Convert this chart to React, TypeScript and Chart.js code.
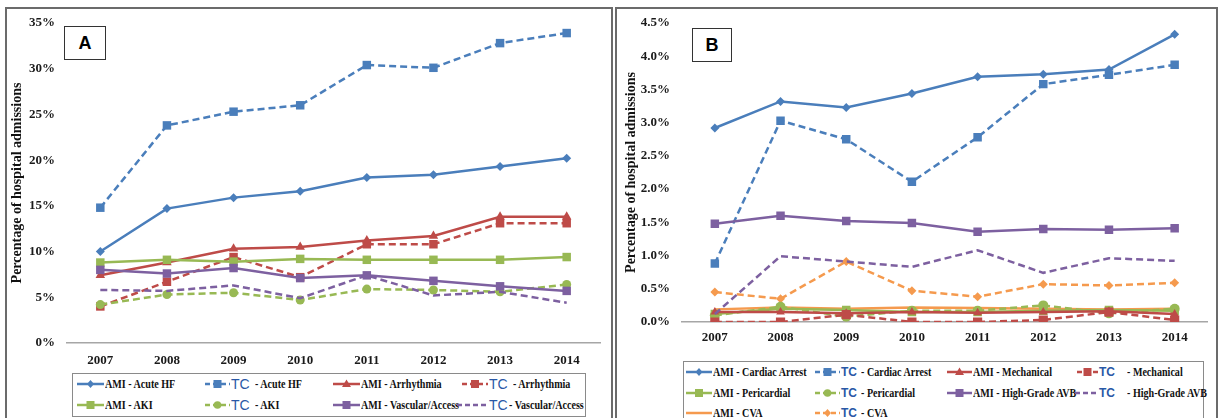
import React, { useEffect, useRef } from 'react';
import { Chart, registerables } from 'chart.js';
Chart.register(...registerables);

const years = ['2007', '2008', '2009', '2010', '2011', '2012', '2013', '2014'];

// Panel A (percent)
const amiAcuteHF = [10.0, 14.7, 15.9, 16.6, 18.1, 18.4, 19.3, 20.2];
const tcAcuteHF = [14.8, 23.8, 25.3, 26.0, 30.4, 30.1, 32.8, 33.9];
const amiArrhythmia = [7.4, 8.8, 10.3, 10.5, 11.2, 11.7, 13.8, 13.8];
const tcArrhythmia = [4.0, 6.7, 9.4, 7.2, 10.8, 10.8, 13.1, 13.1];
const amiAKI = [8.8, 9.1, 8.9, 9.2, 9.1, 9.1, 9.1, 9.4];
const tcAKI = [4.2, 5.3, 5.5, 4.7, 5.9, 5.8, 5.6, 6.4];
const amiVascular = [8.0, 7.6, 8.2, 7.1, 7.4, 6.8, 6.2, 5.7];
const tcVascular = [5.8, 5.7, 6.3, 4.9, 7.4, 5.2, 5.6, 4.4];

// Panel B (percent)
const amiCardiacArrest = [2.92, 3.32, 3.23, 3.44, 3.69, 3.73, 3.8, 4.33];
const tcCardiacArrest = [0.88, 3.03, 2.75, 2.11, 2.78, 3.58, 3.72, 3.87];
const amiMechanical = [0.15, 0.15, 0.13, 0.15, 0.14, 0.15, 0.16, 0.12];
const tcMechanical = [0.0, 0.0, 0.11, 0.0, 0.0, 0.03, 0.15, 0.03];
const amiPericardial = [0.12, 0.2, 0.18, 0.15, 0.15, 0.17, 0.18, 0.17];
const tcPericardial = [0.1, 0.23, 0.08, 0.17, 0.17, 0.25, 0.13, 0.2];
const amiHighGradeAVB = [1.48, 1.6, 1.52, 1.49, 1.36, 1.4, 1.39, 1.41];
const tcHighGradeAVB = [0.12, 0.99, 0.91, 0.83, 1.08, 0.74, 0.96, 0.92];
const amiCVA = [0.19, 0.22, 0.2, 0.22, 0.21, 0.2, 0.19, 0.2];
const tcCVA = [0.45, 0.35, 0.91, 0.47, 0.38, 0.57, 0.55, 0.59];

const yTicksA = { min: 0, max: 35, step: 5 };
const yTicksB = { min: 0, max: 4.5, step: 0.5 };
const yTitle = 'Percentage of hospital admissions';

const BLUE = '#4A7EBB';
const RED = '#BE4B48';
const GREEN = '#98B954';
const PURPLE = '#7D60A0';
const ORANGE = '#F59A4E';
const TC_BLUE = '#2A58A6';

type Marker = 'rectRot' | 'rect' | 'triangle' | 'circle' | 'none';
interface Series {
  label: string;
  name: string;
  group: 'AMI' | 'TC';
  data: number[];
  color: string;
  marker: Marker;
  radius: number;
}

const seriesA: Series[] = [
  { label: 'AMI - Vascular/Access', name: 'Vascular/Access', group: 'AMI', data: amiVascular, color: PURPLE, marker: 'rect', radius: 6 },
  { label: 'TC - Vascular/Access', name: 'Vascular/Access', group: 'TC', data: tcVascular, color: PURPLE, marker: 'none', radius: 0 },
  { label: 'AMI - AKI', name: 'AKI', group: 'AMI', data: amiAKI, color: GREEN, marker: 'rect', radius: 6 },
  { label: 'TC - AKI', name: 'AKI', group: 'TC', data: tcAKI, color: GREEN, marker: 'circle', radius: 4.5 },
  { label: 'AMI - Arrhythmia', name: 'Arrhythmia', group: 'AMI', data: amiArrhythmia, color: RED, marker: 'triangle', radius: 5.5 },
  { label: 'TC - Arrhythmia', name: 'Arrhythmia', group: 'TC', data: tcArrhythmia, color: RED, marker: 'rect', radius: 6 },
  { label: 'AMI - Acute HF', name: 'Acute HF', group: 'AMI', data: amiAcuteHF, color: BLUE, marker: 'rectRot', radius: 4.5 },
  { label: 'TC - Acute HF', name: 'Acute HF', group: 'TC', data: tcAcuteHF, color: BLUE, marker: 'rect', radius: 6 },
];

const seriesB: Series[] = [
  { label: 'TC - High-Grade AVB', name: 'High-Grade AVB', group: 'TC', data: tcHighGradeAVB, color: PURPLE, marker: 'none', radius: 0 },
  { label: 'AMI - High-Grade AVB', name: 'High-Grade AVB', group: 'AMI', data: amiHighGradeAVB, color: PURPLE, marker: 'rect', radius: 6 },
  { label: 'TC - Mechanical', name: 'Mechanical', group: 'TC', data: tcMechanical, color: RED, marker: 'rect', radius: 6.5 },
  { label: 'AMI - Mechanical', name: 'Mechanical', group: 'AMI', data: amiMechanical, color: RED, marker: 'triangle', radius: 5 },
  { label: 'TC - Pericardial', name: 'Pericardial', group: 'TC', data: tcPericardial, color: GREEN, marker: 'circle', radius: 5 },
  { label: 'AMI - Pericardial', name: 'Pericardial', group: 'AMI', data: amiPericardial, color: GREEN, marker: 'rect', radius: 6 },
  { label: 'AMI - CVA', name: 'CVA', group: 'AMI', data: amiCVA, color: ORANGE, marker: 'none', radius: 0 },
  { label: 'TC - CVA', name: 'CVA', group: 'TC', data: tcCVA, color: ORANGE, marker: 'rectRot', radius: 4.5 },
  { label: 'TC - Cardiac Arrest', name: 'Cardiac Arrest', group: 'TC', data: tcCardiacArrest, color: BLUE, marker: 'rect', radius: 6 },
  { label: 'AMI - Cardiac Arrest', name: 'Cardiac Arrest', group: 'AMI', data: amiCardiacArrest, color: BLUE, marker: 'rectRot', radius: 4.5 },
];

const SERIF = "'Liberation Serif', 'Times New Roman', serif";
const SANS = "'Liberation Sans', Arial, sans-serif";

function toDataset(s: Series) {
  return {
    label: s.label,
    data: s.data,
    borderColor: s.color,
    backgroundColor: s.color,
    borderWidth: 2.5,
    borderDash: s.group === 'TC' ? [7, 4] : [],
    pointStyle: s.marker === 'none' ? 'circle' : s.marker,
    pointRadius: s.marker === 'none' ? 0 : s.radius,
    pointBorderWidth: 0,
    tension: 0,
    fill: false,
  };
}

interface PanelChartProps {
  series: Series[];
  ticks: { min: number; max: number; step: number };
  decimals: number;
  left: number;
  width: number;
  height: number;
  xHeight: number;
  yWidth: number;
  padTop: number;
  padRight: number;
  titlePad: number;
  xPad: number;
}

function PanelChart(p: PanelChartProps) {
  const ref = useRef<HTMLCanvasElement | null>(null);
  useEffect(() => {
    if (!ref.current) return;
    const chart = new Chart(ref.current, {
      type: 'line',
      data: { labels: years, datasets: p.series.map(toDataset) as any },
      options: {
        animation: false,
        responsive: false,
        maintainAspectRatio: false,
        layout: { padding: { top: p.padTop, right: p.padRight, left: 0, bottom: 0 } },
        plugins: { legend: { display: false }, tooltip: { enabled: false } },
        scales: {
          x: {
            offset: true,
            grid: { display: false, drawTicks: false },
            border: { display: true, color: '#A6A6A6', width: 1.5 },
            ticks: { padding: p.xPad, color: '#1a1a1a', font: { family: SERIF, size: 13, weight: 'bold' } },
            afterFit: (s: any) => { s.height = p.xHeight; },
          },
          y: {
            min: p.ticks.min,
            max: p.ticks.max,
            grid: { display: false, drawTicks: false },
            border: { display: false },
            ticks: {
              stepSize: p.ticks.step,
              padding: 12,
              color: '#1a1a1a',
              font: { family: SERIF, size: 13, weight: 'bold' },
              callback: (v: any) => Number(v).toFixed(p.decimals) + '%',
            },
            title: {
              display: true,
              text: yTitle,
              color: '#111',
              padding: { top: p.titlePad, bottom: 0 },
              font: { family: SERIF, size: 14, weight: 'bold' },
            },
            afterFit: (s: any) => { s.width = p.yWidth; },
          },
        },
      } as any,
    });
    return () => chart.destroy();
  }, []);
  return (
    <canvas
      ref={ref}
      width={p.width}
      height={p.height}
      style={{ position: 'absolute', left: p.left, top: 0, width: p.width, height: p.height }}
    />
  );
}

function Sample({ s, w }: { s: Series; w: number }) {
  const h = 16;
  const cy = h / 2;
  const cx = w / 2;
  const dash = s.group === 'TC' ? '5 3' : undefined;
  let marker: React.ReactNode = null;
  const r = 4;
  if (s.marker === 'rect') marker = <rect x={cx - r} y={cy - r} width={2 * r} height={2 * r} fill={s.color} />;
  else if (s.marker === 'rectRot') marker = <polygon points={`${cx},${cy - 4} ${cx + 3.5},${cy} ${cx},${cy + 4} ${cx - 3.5},${cy}`} fill={s.color} />;
  else if (s.marker === 'triangle') marker = <polygon points={`${cx},${cy - 4.5} ${cx + 4.5},${cy + 3} ${cx - 4.5},${cy + 3}`} fill={s.color} />;
  else if (s.marker === 'circle') marker = <circle cx={cx} cy={cy} r={3.8} fill={s.color} />;
  return (
    <svg width={w} height={h} style={{ display: 'block' }}>
      <line x1={0} y1={cy} x2={w} y2={cy} stroke={s.color} strokeWidth={2.5} strokeDasharray={dash} />
      {marker}
    </svg>
  );
}

interface LegendPos { s: Series; x: number; w: number; y: number; tcX?: number; restX?: number; }

function LegendItem({ item, tcSize, tcBold }: { item: LegendPos; tcSize: number; tcBold: boolean }) {
  const { s, x, w, y } = item;
  const textStyle: React.CSSProperties = {
    position: 'absolute',
    top: y - 8,
    lineHeight: '16px',
    whiteSpace: 'nowrap',
    fontFamily: SERIF,
    fontWeight: 'bold',
    fontSize: 12,
    color: '#111',
    transform: 'scaleX(0.84)',
    transformOrigin: 'left center',
  };
  return (
    <>
      <div style={{ position: 'absolute', left: x, top: y - 8 }}>
        <Sample s={s} w={w} />
      </div>
      {s.group === 'AMI' ? (
        <span style={{ ...textStyle, left: x + w + 1 }}>{'AMI - ' + s.name}</span>
      ) : (
        <>
          <span
            style={{
              position: 'absolute',
              left: item.tcX ?? x + w + 1,
              top: y - 9,
              lineHeight: '18px',
              fontFamily: SANS,
              fontSize: tcSize,
              fontWeight: tcBold ? 'bold' : 'normal',
              color: TC_BLUE,
            }}
          >
            TC
          </span>
          <span style={{ ...textStyle, left: item.restX ?? x + w + 24 }}>{'- ' + s.name}</span>
        </>
      )}
    </>
  );
}

const find = (arr: Series[], label: string) => arr.find((s) => s.label === label)!;

export default function App() {
  const rA1 = 384, rA2 = 405;
  const legendA: LegendPos[] = [
    { s: find(seriesA, 'AMI - Acute HF'), x: 77, w: 27, y: rA1 },
    { s: find(seriesA, 'TC - Acute HF'), x: 205, w: 25, y: rA1, tcX: 231, restX: 255 },
    { s: find(seriesA, 'AMI - Arrhythmia'), x: 333, w: 27, y: rA1 },
    { s: find(seriesA, 'TC - Arrhythmia'), x: 462, w: 26, y: rA1, tcX: 489, restX: 513 },
    { s: find(seriesA, 'AMI - AKI'), x: 77, w: 27, y: rA2 },
    { s: find(seriesA, 'TC - AKI'), x: 205, w: 25, y: rA2, tcX: 231, restX: 255 },
    { s: find(seriesA, 'AMI - Vascular/Access'), x: 333, w: 27, y: rA2 },
    { s: find(seriesA, 'TC - Vascular/Access'), x: 457, w: 31, y: rA2, tcX: 489, restX: 509 },
  ];
  const rB1 = 372, rB2 = 393, rB3 = 413;
  const legendB: LegendPos[] = [
    { s: find(seriesB, 'AMI - Cardiac Arrest'), x: 686, w: 26, y: rB1 },
    { s: find(seriesB, 'TC - Cardiac Arrest'), x: 815, w: 25, y: rB1, tcX: 841, restX: 861 },
    { s: find(seriesB, 'AMI - Mechanical'), x: 947, w: 25, y: rB1 },
    { s: find(seriesB, 'TC - Mechanical'), x: 1077, w: 21, y: rB1, tcX: 1099, restX: 1127 },
    { s: find(seriesB, 'AMI - Pericardial'), x: 686, w: 26, y: rB2 },
    { s: find(seriesB, 'TC - Pericardial'), x: 815, w: 25, y: rB2, tcX: 841, restX: 861 },
    { s: find(seriesB, 'AMI - High-Grade AVB'), x: 947, w: 25, y: rB2 },
    { s: find(seriesB, 'TC - High-Grade AVB'), x: 1075, w: 23, y: rB2, tcX: 1099, restX: 1127 },
    { s: find(seriesB, 'AMI - CVA'), x: 686, w: 26, y: rB3 },
    { s: find(seriesB, 'TC - CVA'), x: 815, w: 25, y: rB3, tcX: 841, restX: 861 },
  ];

  return (
    <div style={{ position: 'absolute', left: 0, top: 0, width: 1218, height: 418, overflow: 'hidden', background: '#fff' }}>
      {/* panel frames */}
      <div style={{ position: 'absolute', left: 5, top: 7, width: 604, height: 430, border: '2px solid #6b6b6b', borderBottom: 'none' }} />
      <div style={{ position: 'absolute', left: 615, top: 7, width: 599, height: 430, border: '2px solid #6b6b6b', borderBottom: 'none' }} />

      <PanelChart
        series={seriesA}
        ticks={yTicksA}
        decimals={0}
        left={7}
        width={599}
        height={370}
        xHeight={27}
        yWidth={60}
        padTop={23}
        padRight={4}
        titlePad={2}
        xPad={10}
      />
      <PanelChart
        series={seriesB}
        ticks={yTicksB}
        decimals={1}
        left={618}
        width={596}
        height={350}
        xHeight={28}
        yWidth={64}
        padTop={23}
        padRight={4}
        titlePad={5}
        xPad={8}
      />

      {/* panel letters */}
      <div style={{ position: 'absolute', left: 64, top: 26, width: 40, height: 32, border: '1px solid #333', display: 'flex', alignItems: 'center', justifyContent: 'center', fontFamily: SANS, fontWeight: 'bold', fontSize: 18, background: '#fff' }}>A</div>
      <div style={{ position: 'absolute', left: 692, top: 28, width: 38, height: 32, border: '1px solid #333', display: 'flex', alignItems: 'center', justifyContent: 'center', fontFamily: SANS, fontWeight: 'bold', fontSize: 18, background: '#fff' }}>B</div>

      {/* legend boxes */}
      <div style={{ position: 'absolute', left: 72, top: 373, width: 512, height: 42, border: '1px solid #8a8a8a' }} />
      <div style={{ position: 'absolute', left: 683, top: 361, width: 519, height: 80, border: '1px solid #8a8a8a' }} />
      {legendA.map((it, i) => <LegendItem key={'a' + i} item={it} tcSize={14} tcBold={false} />)}
      {legendB.map((it, i) => <LegendItem key={'b' + i} item={it} tcSize={12} tcBold={true} />)}
    </div>
  );
}
